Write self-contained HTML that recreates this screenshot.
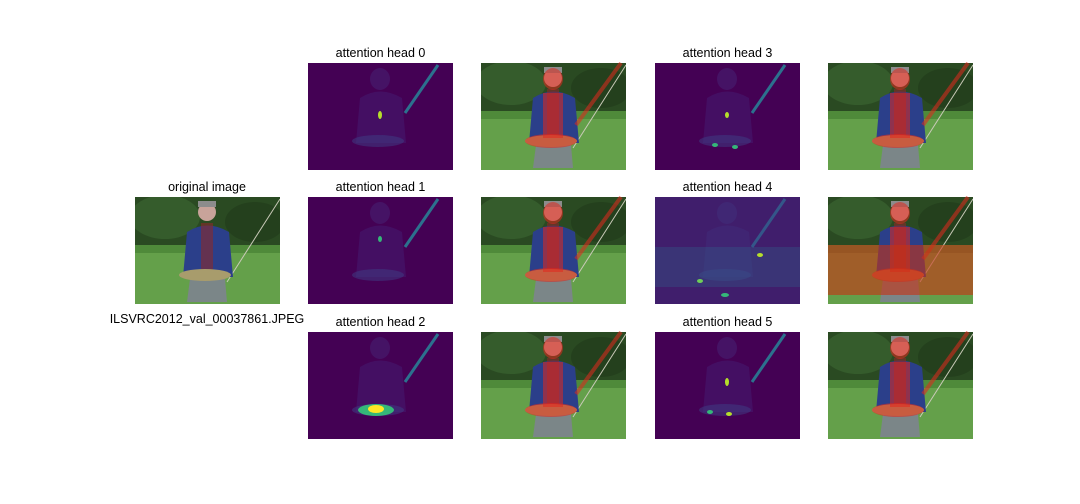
<!DOCTYPE html>
<html><head><meta charset="utf-8"><style>
body{margin:0;background:#fff;width:1080px;height:504px;overflow:hidden}
svg{display:block}
text{font-family:"Liberation Sans","DejaVu Sans",sans-serif;font-size:12.5px;fill:#000}
</style></head><body>
<svg id="fig" width="1080" height="504" viewBox="0 0 1080 504" xmlns="http://www.w3.org/2000/svg">
<defs>
<symbol id="photo" viewBox="0 0 145 107">
<rect width="145" height="107" fill="#64a04a"/>
<rect width="145" height="52" fill="#2a4a22"/>
<ellipse cx="30" cy="20" rx="35" ry="22" fill="#355c2c"/>
<ellipse cx="120" cy="25" rx="30" ry="20" fill="#24401d"/>
<rect y="48" width="145" height="8" fill="#4f8a3a"/>
<line x1="92" y1="85" x2="145" y2="2" stroke="#c9c9b8" stroke-width="1"/>
<path d="M52 35 Q72 22 94 35 L98 80 L48 80 Z" fill="#2b3f8a"/>
<rect x="66" y="26" width="12" height="55" fill="#8a2a2a" opacity=".6"/>
<circle cx="72" cy="15" r="9" fill="#c8a39a"/>
<rect x="63" y="4" width="18" height="6" fill="#8c8c8c"/>
<path d="M55 82 L90 82 L92 105 L52 105 Z" fill="#7b8688"/>
<ellipse cx="70" cy="78" rx="26" ry="6" fill="#a89c6c"/>
</symbol>
<symbol id="att" viewBox="0 0 145 107">
<rect width="145" height="107" fill="#440154"/>
<path d="M52 35 Q72 22 94 35 L98 80 L48 80 Z" fill="#46257a" opacity=".4"/>
<ellipse cx="72" cy="16" rx="10" ry="11" fill="#48307f" opacity=".4"/>
<ellipse cx="70" cy="78" rx="26" ry="6" fill="#3e3f86" opacity=".5"/>
<line x1="97" y1="50" x2="130" y2="2" stroke="#2c718e" stroke-width="3"/>
</symbol>
</defs>
<g id="panels"></g>
</svg>
<script>
const heads=[0,1,2,3,4,5];
const colX=[308,481,655,828];
const rowY=[63,197,332];
const W=145,H=107;
const spots=[
 [[72,52,2,4,"#b5de2b"]],
 [[72,42,2,3,"#35b779"]],
 [[68,78,18,6,"#35b779"],[68,77,8,4,"#fde725"]],
 [[72,52,2,3,"#b5de2b"],[60,82,3,2,"#35b779"],[80,84,3,2,"#35b779"]],
 [[105,58,3,2,"#b5de2b"],[45,84,3,2,"#6ece58"],[70,98,4,2,"#35b779"]],
 [[72,50,2,4,"#b5de2b"],[74,82,3,2,"#b5de2b"],[55,80,3,2,"#35b779"]]
];
const ns="http://www.w3.org/2000/svg";
const g=document.getElementById('panels');
function mk(t,a){const e=document.createElementNS(ns,t);for(const k in a)e.setAttribute(k,a[k]);return e;}
function txt(x,y,s){const t=mk('text',{x:x,y:y,'text-anchor':'middle'});t.textContent=s;g.appendChild(t);return t;}
let u=mk('use',{href:'#photo',x:135,y:197,width:W,height:H});


g.appendChild(u);
let t=txt(207,191,'original image');


t=txt(207,323,'ILSVRC2012_val_00037861.JPEG');


heads.forEach(h=>{
 const c=Math.floor(h/3)*2, r=h%3;
 const ax=colX[c], ay=rowY[r], px=colX[c+1];
 const a=mk('g',{transform:`translate(${ax},${ay})`});
 
 
 a.appendChild(mk('use',{href:'#att',width:W,height:H}));
 if(h===4){a.appendChild(mk('rect',{width:W,height:H,fill:'#3b3c84',opacity:.5}));
  a.appendChild(mk('rect',{y:50,width:W,height:40,fill:'#2f6a8e',opacity:.3}));}
 spots[h].forEach(s=>{a.appendChild(mk('ellipse',{cx:s[0],cy:s[1],rx:s[2],ry:s[3],fill:s[4]}));});
 g.appendChild(a);
 let tt=txt(ax+W/2,ay-6,'attention head '+h);
 
 
 const p=mk('g',{transform:`translate(${px},${ay})`});
 
 
 p.appendChild(mk('use',{href:'#photo',width:W,height:H}));
 const red='rgba(225,40,30,0.55)';
 p.appendChild(mk('ellipse',{cx:72,cy:16,rx:10,ry:11,fill:red}));
 p.appendChild(mk('rect',{x:62,y:30,width:20,height:45,fill:red}));
 p.appendChild(mk('ellipse',{cx:70,cy:78,rx:26,ry:7,fill:red}));
 p.appendChild(mk('line',{x1:95,y1:62,x2:140,y2:0,stroke:red,'stroke-width':4}));
 if(h===4)p.appendChild(mk('rect',{y:48,width:W,height:50,fill:'rgba(200,50,20,0.6)'}));
 g.appendChild(p);
});
</script>
</body></html>
